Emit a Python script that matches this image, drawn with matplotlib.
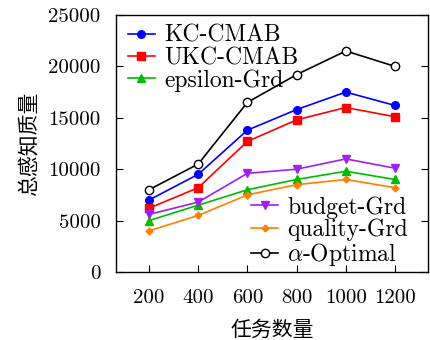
import matplotlib
matplotlib.use("Agg")
import matplotlib.pyplot as plt

plt.rcParams['font.family'] = ['cmr10', 'Noto Sans CJK SC']
plt.rcParams['mathtext.fontset'] = 'cm'
plt.rcParams['axes.formatter.use_mathtext'] = True

tasks = [200, 400, 600, 800, 1000, 1200]
kc_cmab = [7000, 9500, 13800, 15800, 17500, 16200]
ukc_cmab = [6200, 8200, 12700, 14800, 16000, 15100]
eps_grd = [5000, 6500, 8000, 9000, 9800, 9000]
budget_grd = [5600, 6800, 9600, 10000, 11000, 10100]
quality_grd = [4000, 5500, 7500, 8500, 9000, 8200]
alpha_opt = [8000, 10500, 16500, 19200, 21500, 20000]

fig = plt.figure(figsize=(4.31, 3.40), dpi=100)
ax = fig.add_axes([116/431, 1 - 272/340, 312/431, 257/340])

lw = 1.2
l1, = ax.plot(tasks, kc_cmab, color='#0000ff', marker='o', ms=5.5, lw=lw, label='KC-CMAB')
l2, = ax.plot(tasks, ukc_cmab, color='#ff0000', marker='s', ms=5.5, lw=lw, label='UKC-CMAB')
l3, = ax.plot(tasks, eps_grd, color='#00bb00', marker='^', ms=5.5, lw=lw, label='epsilon-Grd')
l4, = ax.plot(tasks, budget_grd, color='#a020f0', marker='v', ms=5.5, lw=lw, label='budget-Grd')
l5, = ax.plot(tasks, quality_grd, color='#ff8000', marker='D', ms=3.5, lw=lw, label='quality-Grd')
l6, = ax.plot(tasks, alpha_opt, color='black', marker='o', mfc='white', ms=6, lw=lw,
              label=r'$\alpha$-Optimal')

ax.set_xlim(66, 1334)
ax.set_ylim(0, 25000)
ax.set_xticks(tasks)
ax.set_yticks([0, 5000, 10000, 15000, 20000, 25000])
ax.set_xticklabels([str(t) for t in tasks])
ax.set_yticklabels(['0', '5000', '10000', '15000', '20000', '25000'])
ax.tick_params(direction='in', length=5, labelsize=15, right=True, top=False)
ax.tick_params(axis='y', pad=11)
ax.tick_params(axis='x', pad=12)
for s in ax.spines.values():
    s.set_linewidth(1.0)

ax.set_xlabel('任务数量', fontsize=15, labelpad=10)
ax.set_ylabel('总感知质量', fontsize=15, labelpad=6)

leg_kw = dict(frameon=False, fontsize=17, handlelength=1.15, handletextpad=0.38,
              labelspacing=0.0, borderpad=0, borderaxespad=0)
leg1 = ax.legend(handles=[l1, l2, l3], loc='upper left',
                 bbox_to_anchor=(0.038, 0.962), **leg_kw)
ax.add_artist(leg1)
ax.legend(handles=[l4, l5, l6], loc='upper left',
          bbox_to_anchor=(0.433, 0.295), **leg_kw)

plt.savefig("out.png", dpi=100)
